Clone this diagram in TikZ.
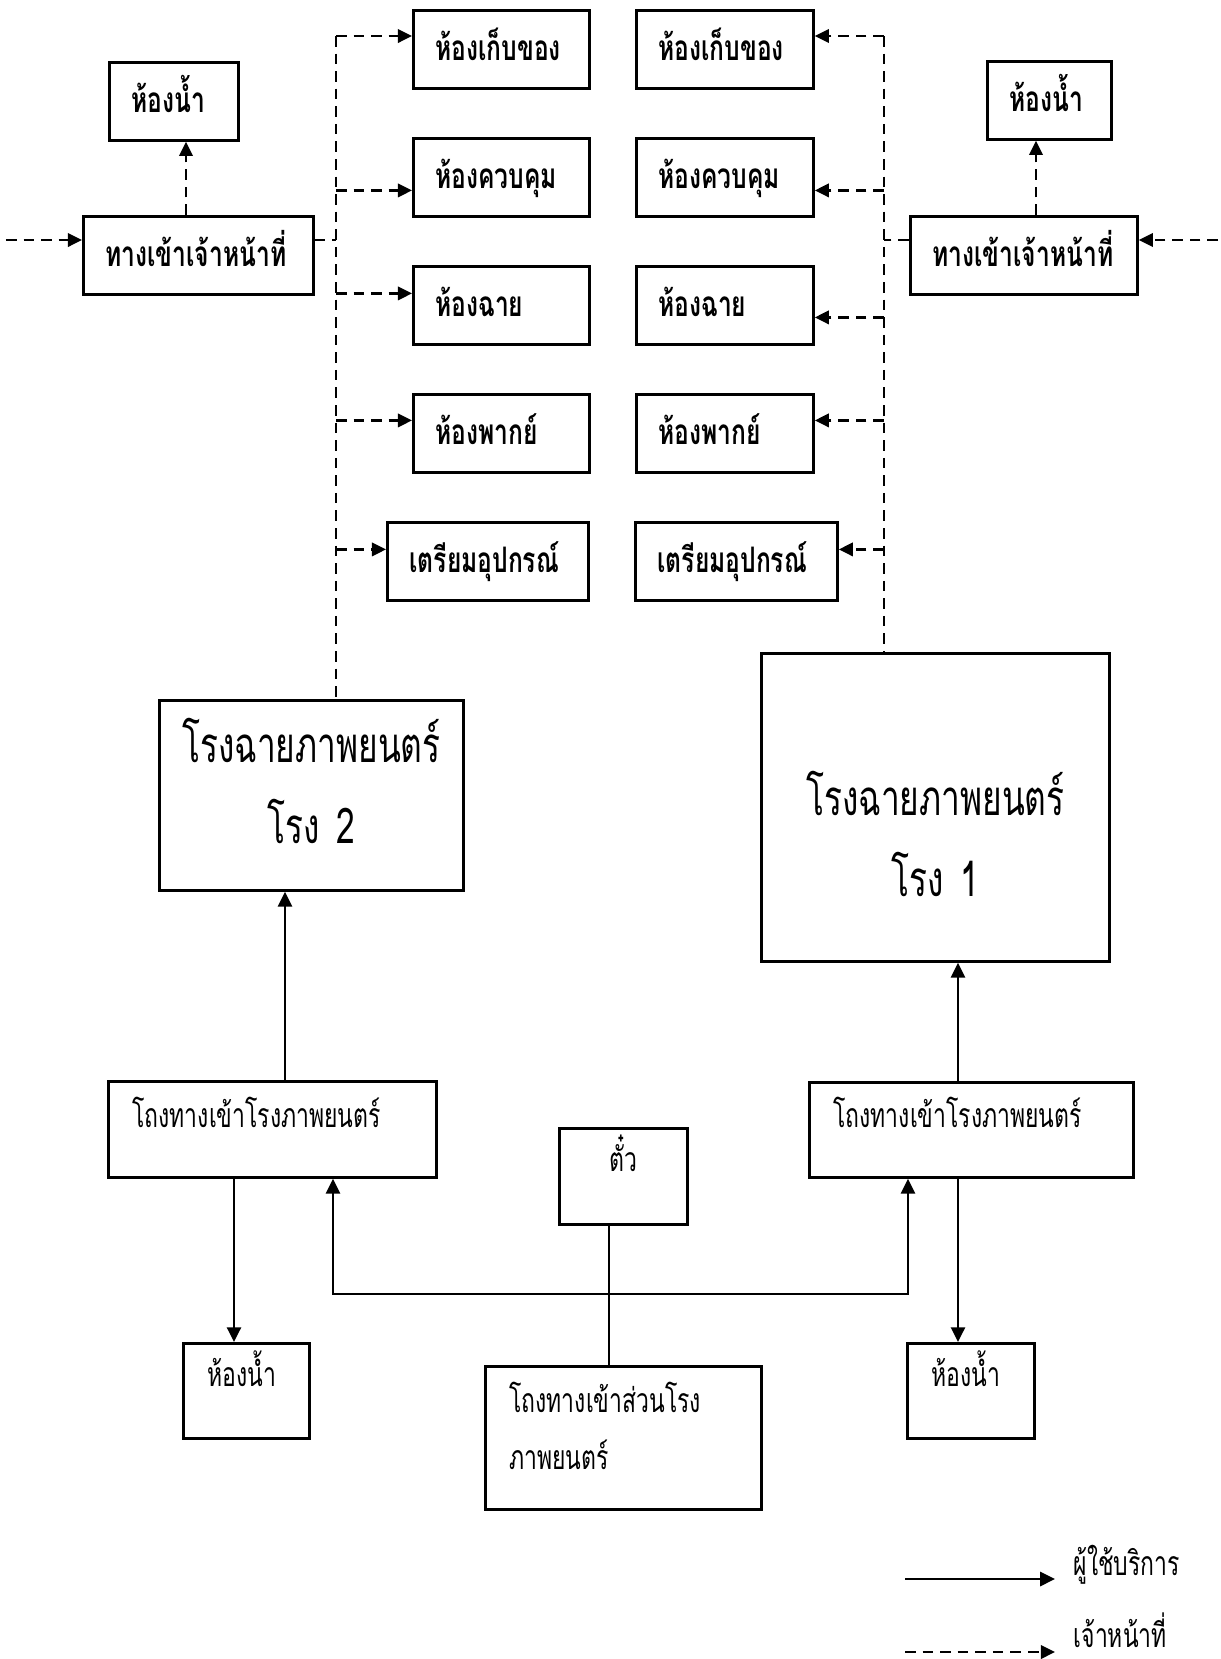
\documentclass[tikz,border=0pt]{standalone}
\usepackage{fontspec}
\usetikzlibrary{arrows.meta, positioning, calc}
\newfontfamily\thaibold[Script=Thai, FakeStretch=0.70]{Loma}
\newfontfamily\thaicond[Script=Thai, FakeStretch=0.68]{Loma}
\newcommand{\roomfont}{\thaibold\bfseries\fontsize{10}{12}\selectfont}
\newcommand{\lobbyfont}{\thaicond\fontsize{9.6}{16.2}\selectfont}
\newcommand{\hallfont}{\thaicond\fontsize{14}{23.2}\selectfont}

\tikzset{
  plainbox/.style={draw, line width=0.8pt, inner xsep=0.22cm, inner ysep=0pt, anchor=north west},
  room/.style={plainbox, align=left, text width=#1, font=\roomfont, text height=0.50cm, text depth=0.28cm},
  lobby/.style={plainbox, inner xsep=0.24cm, align=left, text width=#1, font=\lobbyfont},
  hall/.style={plainbox, align=center, text width=#1, font=\hallfont},
  user/.style={line width=0.7pt, -{Triangle[length=4.2pt, width=4pt]}},
  staff/.style={line width=0.7pt, dash pattern=on 3pt off 2pt, -{Triangle[length=4pt, width=3.8pt]}},
  staffline/.style={line width=0.7pt, dash pattern=on 3pt off 2pt},
}

\begin{document}
\begin{tikzpicture}
  \useasboundingbox (0,0) rectangle (12.21,-16.59);

  % staff rooms, left side
  \node[room=0.85cm] (toiletL) at (1.08,-0.61) {ห้องน้ำ};
  \node[room=1.86cm] (gateL) at (0.82,-2.15) {ทางเข้าเจ้าหน้าที่};
  \node[room=1.32cm] (storeL) at (4.12,-0.09) {ห้องเก็บของ};
  \node[room=1.32cm] (ctrlL) at (4.12,-1.37) {ห้องควบคุม};
  \node[room=1.32cm] (projL) at (4.12,-2.65) {ห้องฉาย};
  \node[room=1.32cm] (dubL) at (4.12,-3.93) {ห้องพากย์};
  \node[room=1.57cm] (prepL) at (3.86,-5.21) {เตรียมอุปกรณ์};

  % staff rooms, right side
  \node[room=1.33cm] (storeR) at (6.35,-0.09) {ห้องเก็บของ};
  \node[room=1.33cm] (ctrlR) at (6.35,-1.37) {ห้องควบคุม};
  \node[room=1.33cm] (projR) at (6.35,-2.65) {ห้องฉาย};
  \node[room=1.33cm] (dubR) at (6.35,-3.93) {ห้องพากย์};
  \node[room=1.58cm] (prepR) at (6.34,-5.21) {เตรียมอุปกรณ์};
  \node[room=0.80cm] (toiletR) at (9.86,-0.60) {ห้องน้ำ};
  \node[room=1.83cm] (gateR) at (9.09,-2.15) {ทางเข้าเจ้าหน้าที่};

  % theatres
  \node[hall=2.60cm, text height=0.62cm, text depth=1.28cm] (hall2) at (1.58,-6.99) {โรงฉายภาพยนตร์\\โรง 2};
  \node[hall=3.04cm, text height=1.62cm, text depth=1.46cm] (hall1) at (7.60,-6.52) {โรงฉายภาพยนตร์\\โรง 1};

  % public side
  \node[lobby=2.80cm, text height=0.46cm, text depth=0.50cm] (lobby2) at (1.07,-10.80) {โถงทางเข้าโรงภาพยนตร์};
  \node[lobby=2.76cm, text height=0.45cm, text depth=0.50cm] (lobby1) at (8.08,-10.81) {โถงทางเข้าโรงภาพยนตร์};
  \node[lobby=0.80cm, align=center, text height=0.43cm, text depth=0.53cm] (ticket) at (5.58,-11.27) {ตั๋ว};
  \node[lobby=0.78cm, text height=0.43cm, text depth=0.52cm] (toilet2) at (1.82,-13.42) {ห้องน้ำ};
  \node[lobby=0.79cm, text height=0.43cm, text depth=0.52cm] (toilet1) at (9.06,-13.42) {ห้องน้ำ};
  \node[lobby=2.28cm, text height=0.46cm, text depth=0.97cm] (foyer) at (4.84,-13.65) {โถงทางเข้าส่วนโรง\\ภาพยนตร์};

  % staff connectors
  \coordinate (busL) at (3.36,-0.36);
  \coordinate (busR) at (8.84,-0.36);
  \coordinate (rowIn) at (0.06,-2.40);
  \coordinate (rowInR) at (12.18,-2.40);
  \coordinate (upL) at (1.86,-2.15);
  \coordinate (upR) at (10.36,-2.15);
  \draw[staff] (rowIn) -- (rowIn -| gateL.west);
  \draw[staff] (rowInR) -- (rowInR -| gateR.east);
  \draw[staff] (upL) -- (upL |- toiletL.south);
  \draw[staff] (upR) -- (upR |- toiletR.south);
  \draw[staffline] (rowIn -| gateL.east) -- (rowIn -| busL);
  \draw[staffline] (rowInR -| gateR.west) -- (rowInR -| busR);
  \draw[staffline] (busL) -- (busL |- hall2.north);
  \draw[staffline] (busR) -- (busR |- hall1.north);
  \draw[staff] (busL) -- (busL -| storeL.west);
  \draw[staff] (busR) -- (busR -| storeR.east);
  \foreach \r/\dy in {ctrlL/-0.13, projL/0.12, dubL/0.13, prepL/0.12} {
    \path ([yshift=\dy cm]\r.west) coordinate (tip);
    \draw[staff] (tip -| busL) -- (tip);
  }
  \foreach \r/\dy in {ctrlR/-0.13, projR/-0.12, dubR/0.13, prepR/0.12} {
    \path ([yshift=\dy cm]\r.east) coordinate (tip);
    \draw[staff] (tip -| busR) -- (tip);
  }

  % user connectors
  \coordinate (colA) at (2.85,0);
  \coordinate (colB) at (2.34,0);
  \coordinate (colC) at (9.58,0);
  \coordinate (forkL) at (3.33,0);
  \coordinate (forkR) at (9.08,0);
  \coordinate (fork) at (6.09,-12.94);
  \draw[user] (colA |- lobby2.north) -- (colA |- hall2.south);
  \draw[user] (colB |- lobby2.south) -- (colB |- toilet2.north);
  \draw[user] (colC |- lobby1.north) -- (colC |- hall1.south);
  \draw[user] (colC |- lobby1.south) -- (colC |- toilet1.north);
  \draw[line width=0.7pt] (fork |- foyer.north) -- (fork |- ticket.south);
  \draw[user] (fork) -| (forkL |- lobby2.south);
  \draw[user] (fork) -| (forkR |- lobby1.south);

  % legend
  \node[font=\lobbyfont, anchor=base west, inner sep=0pt] (keyUser) at (10.73,-15.75) {ผู้ใช้บริการ};
  \node[font=\lobbyfont, anchor=base west, inner sep=0pt] (keyStaff) at (10.73,-16.47) {เจ้าหน้าที่};
  \coordinate (lineUser) at (9.05,-15.79);
  \coordinate (lineStaff) at (9.05,-16.52);
  \draw[user] (lineUser) -- ++(1.50,0);
  \draw[staff] (lineStaff) -- ++(1.50,0);
\end{tikzpicture}
\end{document}
